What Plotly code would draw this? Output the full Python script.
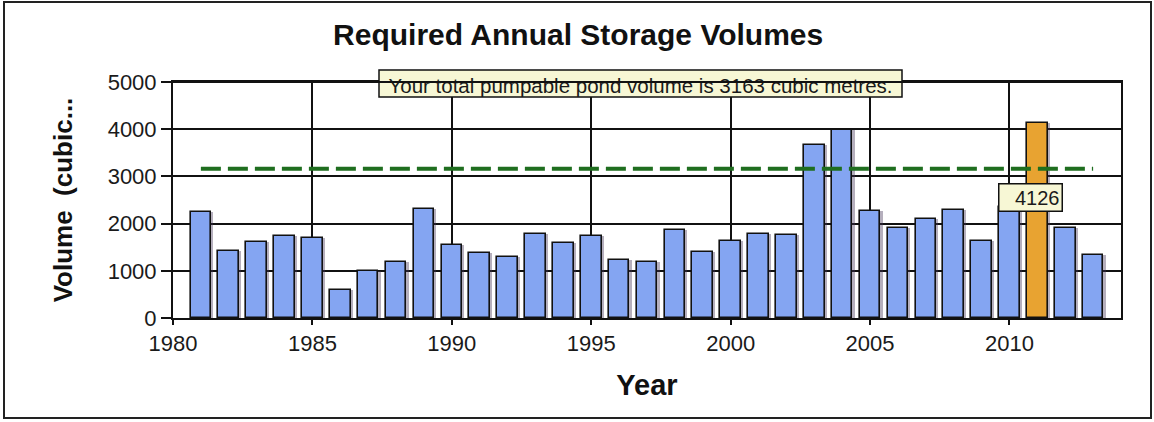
import plotly.graph_objects as go

# ---- data ----
years = list(range(1981, 2014))
volumes = [2240, 1420, 1610, 1735, 1695, 600, 990, 1185, 2320, 1540,
           1380, 1295, 1785, 1590, 1740, 1235, 1190, 1860, 1390, 1625,
           1785, 1750, 3660, 3990, 2260, 1905, 2090, 2295, 1630, 2350,
           4126, 1905, 1330]
pond_volume = 3163
highlight_year = 2011
chart_title = "Required Annual Storage Volumes"
x_title = "Year"
y_title = "Volume\u00a0 (cubic..."
x_ticks = [1980, 1985, 1990, 1995, 2000, 2005, 2010]
y_ticks = [0, 1000, 2000, 3000, 4000, 5000]

# ---- styles ----
FONT = "Arial, 'Liberation Sans', Helvetica, sans-serif"
BLUE = "#84A5F2"
ORANGE = "#E8A331"
GREEN = "#1F6E1F"
NOTE_BG = "#F7F7D5"
BAR_W = 0.74

W, H = 1154, 422
L, R, T, B = 173, 33, 82, 104
PW, PH = W - L - R, H - T - B


def px_x(px):
    return (px - L) / PW


def px_y(py):
    return (H - B - py) / PH


colors = [ORANGE if y == highlight_year else BLUE for y in years]
hi_val = volumes[years.index(highlight_year)]

fig = go.Figure()

# bar shadow
fig.add_trace(go.Bar(
    x=years, y=volumes, width=BAR_W, offset=-BAR_W / 2 + 0.08,
    marker=dict(color="rgba(70,55,90,0.4)", line=dict(width=0)),
    hoverinfo="skip", showlegend=False,
))
# bars
fig.add_trace(go.Bar(
    x=years, y=volumes, width=BAR_W, offset=-BAR_W / 2,
    marker=dict(color=colors, line=dict(color="#111111", width=1.6)),
    showlegend=False,
))
# pond volume line
fig.add_trace(go.Scatter(
    x=[years[0], years[-1]], y=[pond_volume, pond_volume], mode="lines",
    line=dict(color=GREEN, width=4, dash="20px,7px"),
    showlegend=False, hoverinfo="skip",
))

fig.update_layout(
    width=W, height=H,
    margin=dict(l=L, r=R, t=T, b=B),
    paper_bgcolor="white", plot_bgcolor="white",
    barmode="overlay", bargap=0,
    font=dict(family=FONT, color="#1a1a1a"),
    title=dict(text="<b>" + chart_title + "</b>", xref="container", x=0.501,
               xanchor="center", yref="container", y=1 - 34 / H,
               yanchor="middle", font=dict(size=30, family=FONT, color="#111")),
    xaxis=dict(
        range=[1980, 2014], tickmode="array", tickvals=x_ticks,
        ticktext=[str(t) for t in x_ticks],
        showgrid=True, gridcolor="#111", gridwidth=2,
        showline=True, linecolor="#111", linewidth=2, mirror=True,
        ticks="outside", ticklen=5, tickwidth=2, tickcolor="#111",
        zeroline=False, tickfont=dict(size=22, family=FONT, color="#1a1a1a"),
        title=dict(text="<b>" + x_title + "</b>", standoff=19,
                   font=dict(size=29, family=FONT, color="#111")),
    ),
    yaxis=dict(
        range=[0, 5000], tickmode="array", tickvals=y_ticks,
        ticktext=[str(t) for t in y_ticks],
        showgrid=True, gridcolor="#111", gridwidth=2,
        showline=True, linecolor="#111", linewidth=2, mirror=True,
        ticks="outside", ticklen=10, tickwidth=2, tickcolor="#111",
        zeroline=False, tickfont=dict(size=22, family=FONT, color="#1a1a1a"),
        title=dict(text="<b>" + y_title + "</b>", standoff=28,
                   font=dict(size=26, family=FONT, color="#111")),
    ),
    shapes=[
        # outer chart frame
        dict(type="rect", xref="paper", yref="paper", layer="below",
             x0=px_x(4), x1=px_x(1151), y0=px_y(418), y1=px_y(2),
             line=dict(color="#222", width=2), fillcolor="rgba(0,0,0,0)"),
        # note box
        dict(type="rect", xref="paper", yref="paper", layer="above",
             x0=px_x(379), x1=px_x(902), y0=px_y(97), y1=px_y(70),
             line=dict(color="#111", width=1.5), fillcolor=NOTE_BG,
             label=dict(text="Your total pumpable pond volume is %d cubic metres." % pond_volume,
                        textposition="middle center",
                        font=dict(size=20.5, family=FONT, color="#1a1a1a"))),
        # plot-area top border drawn over the note
        dict(type="line", xref="paper", yref="paper", layer="above",
             x0=0, x1=1, y0=1, y1=1, line=dict(color="#111", width=2)),
    ],
    annotations=[
        dict(x=highlight_year - 0.24, y=2555, xref="x", yref="y",
             text=str(hi_val), showarrow=False, xanchor="center", yanchor="middle",
             bgcolor=NOTE_BG, bordercolor="#111", borderwidth=1.5, borderpad=2,
             width=58, height=22, align="right",
             font=dict(size=20, family=FONT, color="#1a1a1a")),
    ],
)

fig.write_html("out.html")
